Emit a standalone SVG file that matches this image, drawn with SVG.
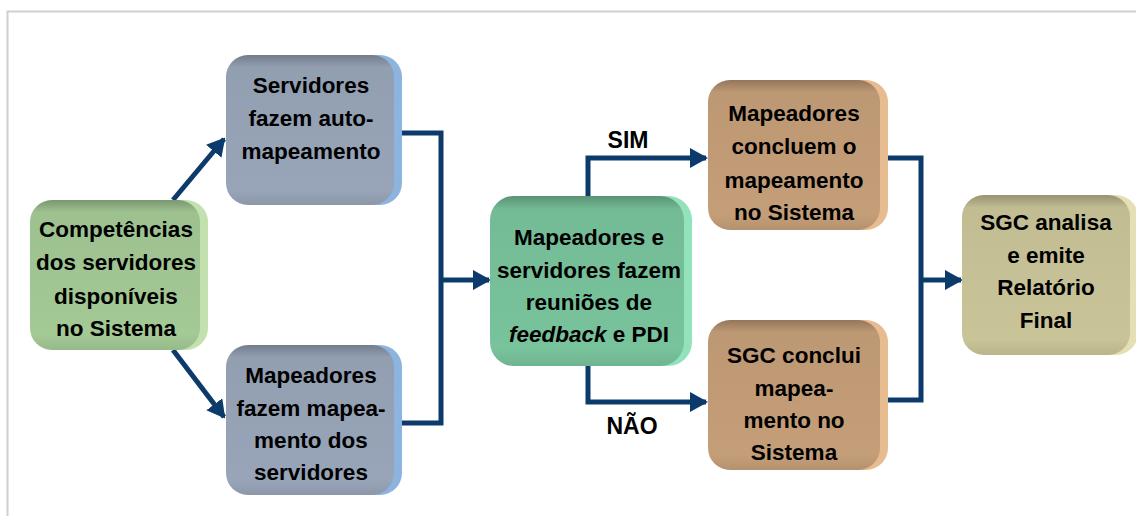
<svg xmlns="http://www.w3.org/2000/svg" width="1136" height="516" viewBox="0 0 1136 516">
<defs>
<style>
.t{font-family:"Liberation Sans",Arial,sans-serif;font-weight:bold;font-size:22.5px;fill:#000;text-anchor:middle}
.lbl{font-family:"Liberation Sans",Arial,sans-serif;font-weight:bold;font-size:23px;fill:#000;text-anchor:middle}
.c{fill:none;stroke:#0b3a6b;stroke-width:5}
</style>
<marker id="ah" markerUnits="userSpaceOnUse" markerWidth="18" markerHeight="20" refX="16" refY="10" orient="auto">
<path d="M0,0 L18,10 L0,20 Z" fill="#0b3a6b"/>
</marker>
<linearGradient id="shade" x1="0" y1="0" x2="0" y2="1">
<stop offset="0" stop-color="#000" stop-opacity="0.25"/>
<stop offset="0.08" stop-color="#000" stop-opacity="0.04"/>
<stop offset="0.9" stop-color="#000" stop-opacity="0"/>
<stop offset="1" stop-color="#000" stop-opacity="0.08"/>
</linearGradient>
</defs>
<rect width="1136" height="516" fill="#fff"/>
<path d="M7.5,516 V11.5 H1136" fill="none" stroke="#d0d0d0" stroke-width="2"/>

<g id="connectors">
<path class="c" d="M173,200 L224,139" marker-end="url(#ah)"/>
<path class="c" d="M173,350 L224,417" marker-end="url(#ah)"/>
<path class="c" d="M402,133 H441 V423 H402"/>
<path class="c" d="M441,280 H489" marker-end="url(#ah)"/>
<path class="c" d="M588,200 V158 H706" marker-end="url(#ah)"/>
<path class="c" d="M588,364 V402 H706" marker-end="url(#ah)"/>
<path class="c" d="M888,158 H921 V400 H888"/>
<path class="c" d="M921,280 H961" marker-end="url(#ah)"/>
<text class="lbl" x="628" y="148">SIM</text>
<text class="lbl" x="632" y="434">NÃO</text>
</g>

<g id="n1">
<rect x="36" y="200" width="172" height="150" rx="22" fill="#c3e1ae"/>
<rect x="30" y="200" width="170" height="150" rx="22" fill="#a3c995"/>
<rect x="30" y="200" width="170" height="150" rx="22" fill="url(#shade)"/>
<text class="t" x="116" y="237">Competências</text>
<text class="t" x="116" y="270">dos servidores</text>
<text class="t" x="116" y="304">disponíveis</text>
<text class="t" x="116" y="336">no Sistema</text>
</g>

<g id="n2">
<rect x="232" y="55" width="170" height="150" rx="22" fill="#8db4df"/>
<rect x="226" y="55" width="168" height="150" rx="22" fill="#98a5b8"/>
<rect x="226" y="55" width="168" height="150" rx="22" fill="url(#shade)"/>
<text class="t" x="311" y="93">Servidores</text>
<text class="t" x="311" y="126">fazem auto-</text>
<text class="t" x="311" y="159">mapeamento</text>
</g>

<g id="n3">
<rect x="232" y="345" width="170" height="150" rx="22" fill="#8db4df"/>
<rect x="226" y="345" width="168" height="150" rx="22" fill="#98a5b8"/>
<rect x="226" y="345" width="168" height="150" rx="22" fill="url(#shade)"/>
<text class="t" x="311" y="383">Mapeadores</text>
<text class="t" x="311" y="416">fazem mapea-</text>
<text class="t" x="311" y="448">mento dos</text>
<text class="t" x="311" y="480">servidores</text>
</g>

<g id="n4">
<rect x="496" y="196" width="196" height="170" rx="24" fill="#92e2bc"/>
<rect x="490" y="196" width="194" height="170" rx="24" fill="#78c39c"/>
<rect x="490" y="196" width="194" height="170" rx="24" fill="url(#shade)"/>
<text class="t" x="589" y="245">Mapeadores e</text>
<text class="t" x="589" y="278">servidores fazem</text>
<text class="t" x="589" y="310">reuniões de</text>
<text class="t" x="589" y="342"><tspan font-style="italic">feedback</tspan> e PDI</text>
</g>

<g id="n5">
<rect x="714" y="80" width="174" height="150" rx="22" fill="#e6bc90"/>
<rect x="708" y="80" width="172" height="150" rx="22" fill="#c49e78"/>
<rect x="708" y="80" width="172" height="150" rx="22" fill="url(#shade)"/>
<text class="t" x="794" y="121">Mapeadores</text>
<text class="t" x="794" y="154">concluem o</text>
<text class="t" x="794" y="188">mapeamento</text>
<text class="t" x="794" y="220">no Sistema</text>
</g>

<g id="n6">
<rect x="714" y="320" width="174" height="150" rx="22" fill="#e6bc90"/>
<rect x="708" y="320" width="172" height="150" rx="22" fill="#c49e78"/>
<rect x="708" y="320" width="172" height="150" rx="22" fill="url(#shade)"/>
<text class="t" x="794" y="363">SGC conclui</text>
<text class="t" x="794" y="396">mapea-</text>
<text class="t" x="794" y="428">mento no</text>
<text class="t" x="794" y="460">Sistema</text>
</g>

<g id="n7">
<rect x="968" y="195" width="170" height="160" rx="22" fill="#e5e0b4"/>
<rect x="962" y="195" width="168" height="160" rx="22" fill="#c9c498"/>
<rect x="962" y="195" width="168" height="160" rx="22" fill="url(#shade)"/>
<text class="t" x="1046" y="230">SGC analisa</text>
<text class="t" x="1046" y="263">e emite</text>
<text class="t" x="1046" y="295">Relatório</text>
<text class="t" x="1046" y="328">Final</text>
</g>
</svg>
